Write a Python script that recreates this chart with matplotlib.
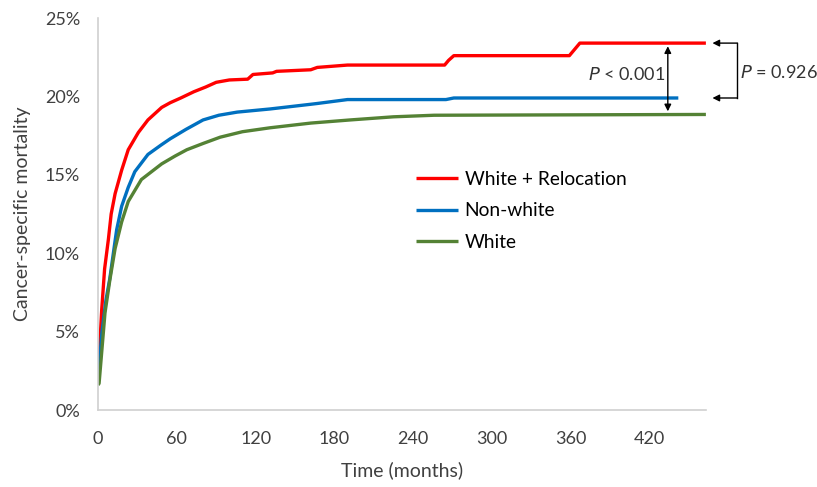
import matplotlib.pyplot as plt
from matplotlib.ticker import FuncFormatter

plt.rcParams['font.family'] = ['Lato', 'DejaVu Sans']

# curves (months, cumulative mortality %)
red_t = [0, 2.8, 5, 7.9, 10, 13, 18, 23, 30.7, 38, 48.5, 55, 63, 73, 82, 90, 100, 114, 118, 133,
         136, 162, 167, 190, 264, 267, 271, 359, 367, 463]
red_y = [2.0, 6.4, 9.0, 10.9, 12.5, 13.8, 15.3, 16.6, 17.7, 18.5, 19.3, 19.6, 19.9, 20.3, 20.6,
         20.9, 21.05, 21.1, 21.4, 21.5, 21.6, 21.7, 21.85, 22.0, 22.0, 22.3, 22.6, 22.6, 23.4, 23.4]

blue_t = [0, 3, 6, 9, 13, 14.2, 18, 23, 28, 38, 48, 55, 67, 80, 92, 106, 131, 162, 167, 190,
          265, 271, 442]
blue_y = [2.0, 5.0, 7.0, 8.4, 10.8, 11.5, 13.0, 14.2, 15.2, 16.3, 16.9, 17.3, 17.9, 18.5, 18.8,
          19.0, 19.2, 19.5, 19.55, 19.8, 19.8, 19.9, 19.9]

green_t = [0, 0.8, 5.3, 9, 13, 18, 23, 33, 48.5, 58.7, 67.6, 80, 93, 110, 131, 162, 192, 225,
           256, 463]
green_y = [1.6, 1.7, 6.2, 8.3, 10.3, 12.0, 13.3, 14.7, 15.7, 16.2, 16.6, 17.0, 17.4, 17.75, 18.0,
           18.3, 18.5, 18.7, 18.8, 18.85]

labels = ['White + Relocation', 'Non-white', 'White']
colors = ['#ff0000', '#0070c0', '#548235']
x_ticks = [0, 60, 120, 180, 240, 300, 360, 420]
y_ticks = [0, 5, 10, 15, 20, 25]

fig = plt.figure(figsize=(8.17, 4.87), dpi=100)
ax = fig.add_axes([0.12, 0.158, 0.744, 0.805])

for t, y, lab, c in zip([red_t, blue_t, green_t], [red_y, blue_y, green_y], labels, colors):
    ax.plot(t, y, color=c, lw=2.4, label=lab, solid_capstyle='butt')

ax.set_xlim(0, 463)
ax.set_ylim(0, 25)
ax.set_xticks(x_ticks)
ax.set_yticks(y_ticks)
ax.yaxis.set_major_formatter(FuncFormatter(lambda v, p: f'{v:.0f}%'))
ax.tick_params(length=0, labelsize=13, labelcolor='#404040')
ax.tick_params(axis='x', pad=15)
ax.tick_params(axis='y', pad=13)
for s in ['top', 'right']:
    ax.spines[s].set_visible(False)
for s in ['left', 'bottom']:
    ax.spines[s].set_color('#d0d0d0')
    ax.spines[s].set_linewidth(1.2)

ax.set_xlabel('Time (months)', fontsize=14, color='#404040', labelpad=10)
ax.set_ylabel('Cancer-specific mortality', fontsize=14, color='#404040', labelpad=10)

ax.legend(loc='upper left', bbox_to_anchor=(0.51, 0.63), frameon=False, fontsize=13.8,
          handlelength=2.2, handletextpad=0.35, labelspacing=0.76, borderaxespad=0)

# P < 0.001 arrow between red and green plateaus
ax.annotate('', xy=(434, red_y[-1] - 0.2), xytext=(434, green_y[-1] + 0.2),
            arrowprops=dict(arrowstyle='<|-|>', color='black', lw=1, mutation_scale=10,
                            shrinkA=0, shrinkB=0))
ax.text(432, 21.4, '$P$ < 0.001', ha='right', va='center', fontsize=13, color='#333333')

# P = 0.926 bracket between red and blue
for yv in [red_y[-1], blue_y[-1]]:
    ax.annotate('', xy=(468, yv), xytext=(487, yv),
                arrowprops=dict(arrowstyle='-|>', color='black', lw=1, mutation_scale=10,
                                shrinkA=0, shrinkB=0), annotation_clip=False)
ax.plot([487, 487], [blue_y[-1], red_y[-1]], color='black', lw=1, clip_on=False)
ax.text(489, 21.5, '$P$ = 0.926', ha='left', va='center',
        fontsize=13, color='#333333', clip_on=False)

fig.savefig('out.png', dpi=100)
